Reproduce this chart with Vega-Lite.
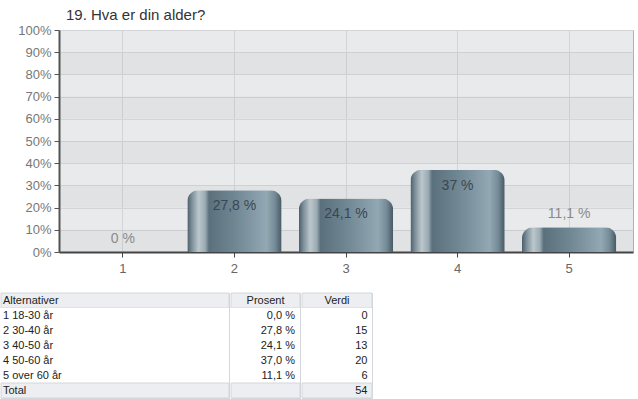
{
  "$schema": "https://vega.github.io/schema/vega-lite/v6.json",
  "padding": {"left": 0, "top": 7, "right": 0, "bottom": 0},
  "background": "white",
  "config": {
    "font": "Liberation Sans",
    "locale": {"number": {"decimal": ",", "thousands": " ", "grouping": [3], "currency": ["", " %"]}},
    "view": {"stroke": null}
  },
  "datasets": {
    "svar": [
      {"alternativ": "1", "prosent": 0},
      {"alternativ": "2", "prosent": 27.8},
      {"alternativ": "3", "prosent": 24.1},
      {"alternativ": "4", "prosent": 37},
      {"alternativ": "5", "prosent": 11.1}
    ],
    "baand": [
      {"fra": 0, "til": 10},
      {"fra": 20, "til": 30},
      {"fra": 40, "til": 50},
      {"fra": 60, "til": 70},
      {"fra": 80, "til": 90}
    ],
    "tom": [],
    "tabell": [
      {"rad": 0, "type": "header", "alternativ": "Alternativer", "prosent": "Prosent", "verdi": "Verdi"},
      {"rad": 1, "type": "data", "alternativ": "1 18-30 år", "prosent": "0,0 %", "verdi": "0"},
      {"rad": 2, "type": "data", "alternativ": "2 30-40 år", "prosent": "27,8 %", "verdi": "15"},
      {"rad": 3, "type": "data", "alternativ": "3 40-50 år", "prosent": "24,1 %", "verdi": "13"},
      {"rad": 4, "type": "data", "alternativ": "4 50-60 år", "prosent": "37,0 %", "verdi": "20"},
      {"rad": 5, "type": "data", "alternativ": "5 over 60 år", "prosent": "11,1 %", "verdi": "6"},
      {"rad": 6, "type": "total", "alternativ": "Total", "prosent": "", "verdi": "54"}
    ]
  },
  "spacing": 16,
  "vconcat": [
    {
      "spacing": 0,
      "hconcat": [
        {
          "width": 1,
          "height": 1,
          "data": {"name": "tom"},
          "mark": {"type": "point", "opacity": 0},
          "encoding": {}
        },
        {
          "width": 574,
          "height": 222,
          "title": {"text": "19. Hva er din alder?", "anchor": "start", "frame": "group", "fontSize": 15, "fontWeight": "normal", "color": "#333333", "offset": 1, "dx": 7},
          "view": {"fill": "#e8eaec", "stroke": "#b0b0b0"},
          "layer": [
            {
              "data": {"name": "baand"},
              "mark": {"type": "rect", "fill": "#000000", "opacity": 0.03},
              "encoding": {
                "y": {"field": "fra", "type": "quantitative", "scale": {"domain": [0, 100]},
                  "axis": {"title": null, "tickCount": 10, "labelExpr": "datum.value + '%'", "labelOverlap": false, "grid": true, "gridColor": "#d2d4d7", "domainColor": "#555555", "domainWidth": 2, "tickColor": "#555555", "tickSize": 5, "labelColor": "#777777", "labelFontSize": 13, "labelPadding": 3, "minExtent": 56}},
                "y2": {"field": "til"}
              }
            },
            {
              "data": {"name": "svar"},
              "mark": {"type": "bar", "cornerRadiusTopLeft": 11, "cornerRadiusTopRight": 11,
                "color": {"gradient": "linear", "x1": 0, "y1": 0, "x2": 1, "y2": 0, "stops": [
                  {"offset": 0, "color": "#4a5e6a"},
                  {"offset": 0.05, "color": "#7e909a"},
                  {"offset": 0.12, "color": "#bcc7cc"},
                  {"offset": 0.19, "color": "#9aabb3"},
                  {"offset": 0.23, "color": "#5b707d"},
                  {"offset": 0.5, "color": "#6f8693"},
                  {"offset": 0.84, "color": "#92a8b3"},
                  {"offset": 0.93, "color": "#758b97"},
                  {"offset": 1, "color": "#475a64"}
                ]}},
              "encoding": {
                "x": {"field": "alternativ", "type": "nominal", "scale": {"paddingInner": 0.155, "paddingOuter": 0.15},
                  "axis": {"title": null, "labelAngle": 0, "domainColor": "#444444", "domainWidth": 2, "tickColor": "#444444", "tickSize": 5, "labelColor": "#666666", "labelFontSize": 13, "labelPadding": 5, "grid": true, "gridColor": "#d2d4d7", "bandPosition": 0.5}},
                "y": {"field": "prosent", "type": "quantitative",
                  "axis": {"title": null, "tickCount": 10, "labelExpr": "datum.value + '%'", "labelOverlap": false, "grid": true, "gridColor": "#d2d4d7", "domainColor": "#555555", "domainWidth": 2, "tickColor": "#555555", "tickSize": 5, "labelColor": "#777777", "labelFontSize": 13, "labelPadding": 3, "minExtent": 56}}
              }
            },
            {
              "data": {"name": "svar"},
              "transform": [{"filter": "datum.prosent >= 20"}],
              "mark": {"type": "text", "dy": 16, "fontSize": 14, "color": "#3a4750"},
              "encoding": {
                "x": {"field": "alternativ", "type": "nominal"},
                "y": {"field": "prosent", "type": "quantitative"},
                "text": {"field": "prosent", "type": "quantitative", "format": "$~g"}
              }
            },
            {
              "data": {"name": "svar"},
              "transform": [{"filter": "datum.prosent < 20"}],
              "mark": {"type": "text", "dy": -13, "fontSize": 14, "color": "#8a8a8a"},
              "encoding": {
                "x": {"field": "alternativ", "type": "nominal"},
                "y": {"field": "prosent", "type": "quantitative"},
                "text": {"field": "prosent", "type": "quantitative", "format": "$~g"}
              }
            }
          ]
        }
      ]
    },
    {
      "spacing": 0,
      "hconcat": [
        {
          "width": 228, "height": 105,
          "data": {"name": "tabell"},
          "view": {"stroke": "#d3d7db"},
          "encoding": {"y": {"field": "rad", "type": "ordinal", "axis": null, "scale": {"paddingInner": 0, "paddingOuter": 0}}},
          "layer": [
            {"mark": {"type": "rect", "stroke": "#d3d7db", "strokeWidth": 1},
             "encoding": {
               "fill": {"condition": {"test": "datum.type !== 'data'", "value": "#eceef1"}, "value": "#ffffff"},
               "strokeOpacity": {"condition": {"test": "datum.type !== 'data'", "value": 1}, "value": 0}}},
            {"mark": {"type": "text", "align": "left", "dx": -112, "fontSize": 11, "color": "#222222"},
             "encoding": {"text": {"field": "alternativ"}}}
          ]
        },
        {
          "width": 69, "height": 105,
          "data": {"name": "tabell"},
          "view": {"stroke": "#d3d7db"},
          "encoding": {"y": {"field": "rad", "type": "ordinal", "axis": null, "scale": {"paddingInner": 0, "paddingOuter": 0}}},
          "layer": [
            {"mark": {"type": "rect", "stroke": "#d3d7db", "strokeWidth": 1},
             "encoding": {
               "fill": {"condition": {"test": "datum.type !== 'data'", "value": "#eceef1"}, "value": "#ffffff"},
               "strokeOpacity": {"condition": {"test": "datum.type !== 'data'", "value": 1}, "value": 0}}},
            {"transform": [{"filter": "datum.type === 'header'"}],
             "mark": {"type": "text", "align": "center", "fontSize": 11, "color": "#222222"},
             "encoding": {"text": {"field": "prosent"}}},
            {"transform": [{"filter": "datum.type !== 'header'"}],
             "mark": {"type": "text", "align": "right", "dx": 29.5, "fontSize": 11, "color": "#222222"},
             "encoding": {"text": {"field": "prosent"}}}
          ]
        },
        {
          "width": 70, "height": 105,
          "data": {"name": "tabell"},
          "view": {"stroke": "#d3d7db"},
          "encoding": {"y": {"field": "rad", "type": "ordinal", "axis": null, "scale": {"paddingInner": 0, "paddingOuter": 0}}},
          "layer": [
            {"mark": {"type": "rect", "stroke": "#d3d7db", "strokeWidth": 1},
             "encoding": {
               "fill": {"condition": {"test": "datum.type !== 'data'", "value": "#eceef1"}, "value": "#ffffff"},
               "strokeOpacity": {"condition": {"test": "datum.type !== 'data'", "value": 1}, "value": 0}}},
            {"transform": [{"filter": "datum.type === 'header'"}],
             "mark": {"type": "text", "align": "center", "fontSize": 11, "color": "#222222"},
             "encoding": {"text": {"field": "verdi"}}},
            {"transform": [{"filter": "datum.type !== 'header'"}],
             "mark": {"type": "text", "align": "right", "dx": 30.5, "fontSize": 11, "color": "#222222"},
             "encoding": {"text": {"field": "verdi"}}}
          ]
        }
      ]
    }
  ]
}
